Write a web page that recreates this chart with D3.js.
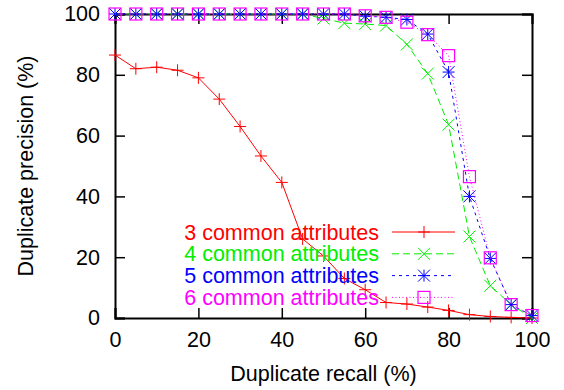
<!DOCTYPE html>
<html>
<head>
    <meta charset="utf-8">
    <title>Duplicate precision vs recall</title>
    <style>
        body { margin: 0; background: #fff; }
        text { font-family: "Liberation Sans", Arial, sans-serif; }
    </style>
</head>
<body>
    <script src="https://cdnjs.cloudflare.com/ajax/libs/d3/7.9.0/d3.min.js"></script>
    <script>
        const width = 564;
        const height = 390;
        const margin = {top: 14, right: 32, bottom: 72, left: 115};
        const fontSize = 21.5;

        // data
        const recall = [0, 5, 10, 15, 20, 25, 30, 35, 40, 45, 50, 55, 60, 65, 70, 75, 80, 85, 90, 95, 100];
        const attr3 = [86.5, 82, 82.5, 81.5, 79, 72, 63, 53.3, 44.6, 26, 20.4, 13, 9.3, 5.1, 4.6, 3.6, 2.5, 1.1, 0.5, 0.2, 0];
        const attr4 = [100, 100, 100, 100, 100, 100, 100, 100, 100, 100, 98.5, 97, 96.7, 96.2, 90, 80.4, 63.6, 26.8, 10.6, 4.4, 0];
        const attr5 = [100, 100, 100, 100, 100, 100, 100, 100, 100, 100, 100, 100, 99.3, 98.9, 98.2, 93.4, 80.9, 40, 19.6, 4.4, 0.8];
        const attr6 = [100, 100, 100, 100, 100, 100, 100, 100, 100, 100, 100, 100, 99.4, 98.9, 97.3, 93.2, 86.3, 46.5, 19.8, 4.4, 0.8];
        const seriesNames = ["3 common attributes", "4 common attributes", "5 common attributes", "6 common attributes"];
        const xTicks = [0, 20, 40, 60, 80, 100];
        const yTicks = [0, 20, 40, 60, 80, 100];

        const series = [
            {name: seriesNames[0], values: attr3, color: "#ff0000", dash: null, marker: "plus"},
            {name: seriesNames[1], values: attr4, color: "#00ee00", dash: "7,4", marker: "cross"},
            {name: seriesNames[2], values: attr5, color: "#0000ff", dash: "3,4", marker: "star"},
            {name: seriesNames[3], values: attr6, color: "#ff00ff", dash: "1,2.5", marker: "square"}
        ];

        const svg = d3.select("body")
            .append("svg")
            .attr("width", width)
            .attr("height", height);

        const x = d3.scaleLinear()
            .domain([0, 100])
            .range([margin.left, width - margin.right]);

        const y = d3.scaleLinear()
            .domain([0, 100])
            .range([height - margin.bottom, margin.top]);

        // frame with inward ticks on all sides
        svg.append("g")
            .attr("transform", `translate(0,${y(0)})`)
            .call(d3.axisBottom(x).tickValues(xTicks).tickSize(-10).tickPadding(14))
            .call(g => g.selectAll("text").attr("font-size", fontSize).attr("fill", "#000"));
        svg.append("g")
            .attr("transform", `translate(0,${y(100)})`)
            .call(d3.axisTop(x).tickValues(xTicks).tickSize(-10).tickFormat(""));
        svg.append("g")
            .attr("transform", `translate(${x(0)},0)`)
            .call(d3.axisLeft(y).tickValues(yTicks).tickSize(-10).tickPadding(15))
            .call(g => g.selectAll("text").attr("font-size", fontSize).attr("fill", "#000"));
        svg.append("g")
            .attr("transform", `translate(${x(100)},0)`)
            .call(d3.axisRight(y).tickValues(yTicks).tickSize(-10).tickFormat(""));

        svg.selectAll(".domain").attr("stroke", "#000").attr("stroke-width", 2);
        svg.selectAll(".tick line").attr("stroke", "#000").attr("stroke-width", 1.5);
        svg.selectAll("text").attr("font-family", "Liberation Sans, Arial, sans-serif");

        // axis titles
        svg.append("text")
            .attr("x", (x(0) + x(100)) / 2)
            .attr("y", 381)
            .attr("text-anchor", "middle")
            .attr("font-size", fontSize)
            .text("Duplicate recall (%)");
        svg.append("text")
            .attr("transform", `translate(33,${(y(0) + y(100)) / 2}) rotate(-90)`)
            .attr("text-anchor", "middle")
            .attr("font-size", fontSize)
            .text("Duplicate precision (%)");

        function drawMarker(g, type, cx, cy, color) {
            const s = 6;
            if (type === "plus" || type === "star") {
                g.append("path").attr("d", `M${cx - s},${cy}H${cx + s}M${cx},${cy - s}V${cy + s}`)
                    .attr("stroke", color).attr("stroke-width", 1);
            }
            if (type === "cross" || type === "star") {
                g.append("path").attr("d", `M${cx - s},${cy - s}L${cx + s},${cy + s}M${cx - s},${cy + s}L${cx + s},${cy - s}`)
                    .attr("stroke", color).attr("stroke-width", 1);
            }
            if (type === "square") {
                g.append("rect").attr("x", cx - 6).attr("y", cy - 6).attr("width", 12).attr("height", 12)
                    .attr("fill", "none").attr("stroke", color).attr("stroke-width", 1.2);
            }
        }

        const line = d3.line()
            .x((d, i) => x(recall[i]))
            .y(d => y(d));

        series.forEach(s => {
            const g = svg.append("g");
            g.append("path")
                .datum(s.values)
                .attr("d", line)
                .attr("fill", "none")
                .attr("stroke", s.color)
                .attr("stroke-width", 1)
                .attr("stroke-dasharray", s.dash);
            s.values.forEach((v, i) => drawMarker(g, s.marker, x(recall[i]), y(v), s.color));
        });

        // legend
        const legend = svg.append("g");
        series.forEach((s, i) => {
            const ly = 232 + i * 21.8;
            legend.append("text")
                .attr("x", 379)
                .attr("y", ly)
                .attr("dy", "0.35em")
                .attr("text-anchor", "end")
                .attr("font-size", fontSize)
                .attr("fill", s.color)
                .text(s.name);
            legend.append("path")
                .attr("d", `M392,${ly}H455`)
                .attr("stroke", s.color)
                .attr("stroke-width", 1)
                .attr("stroke-dasharray", s.dash);
            drawMarker(legend, s.marker, 424, ly, s.color);
        });
    </script>
</body>
</html>
